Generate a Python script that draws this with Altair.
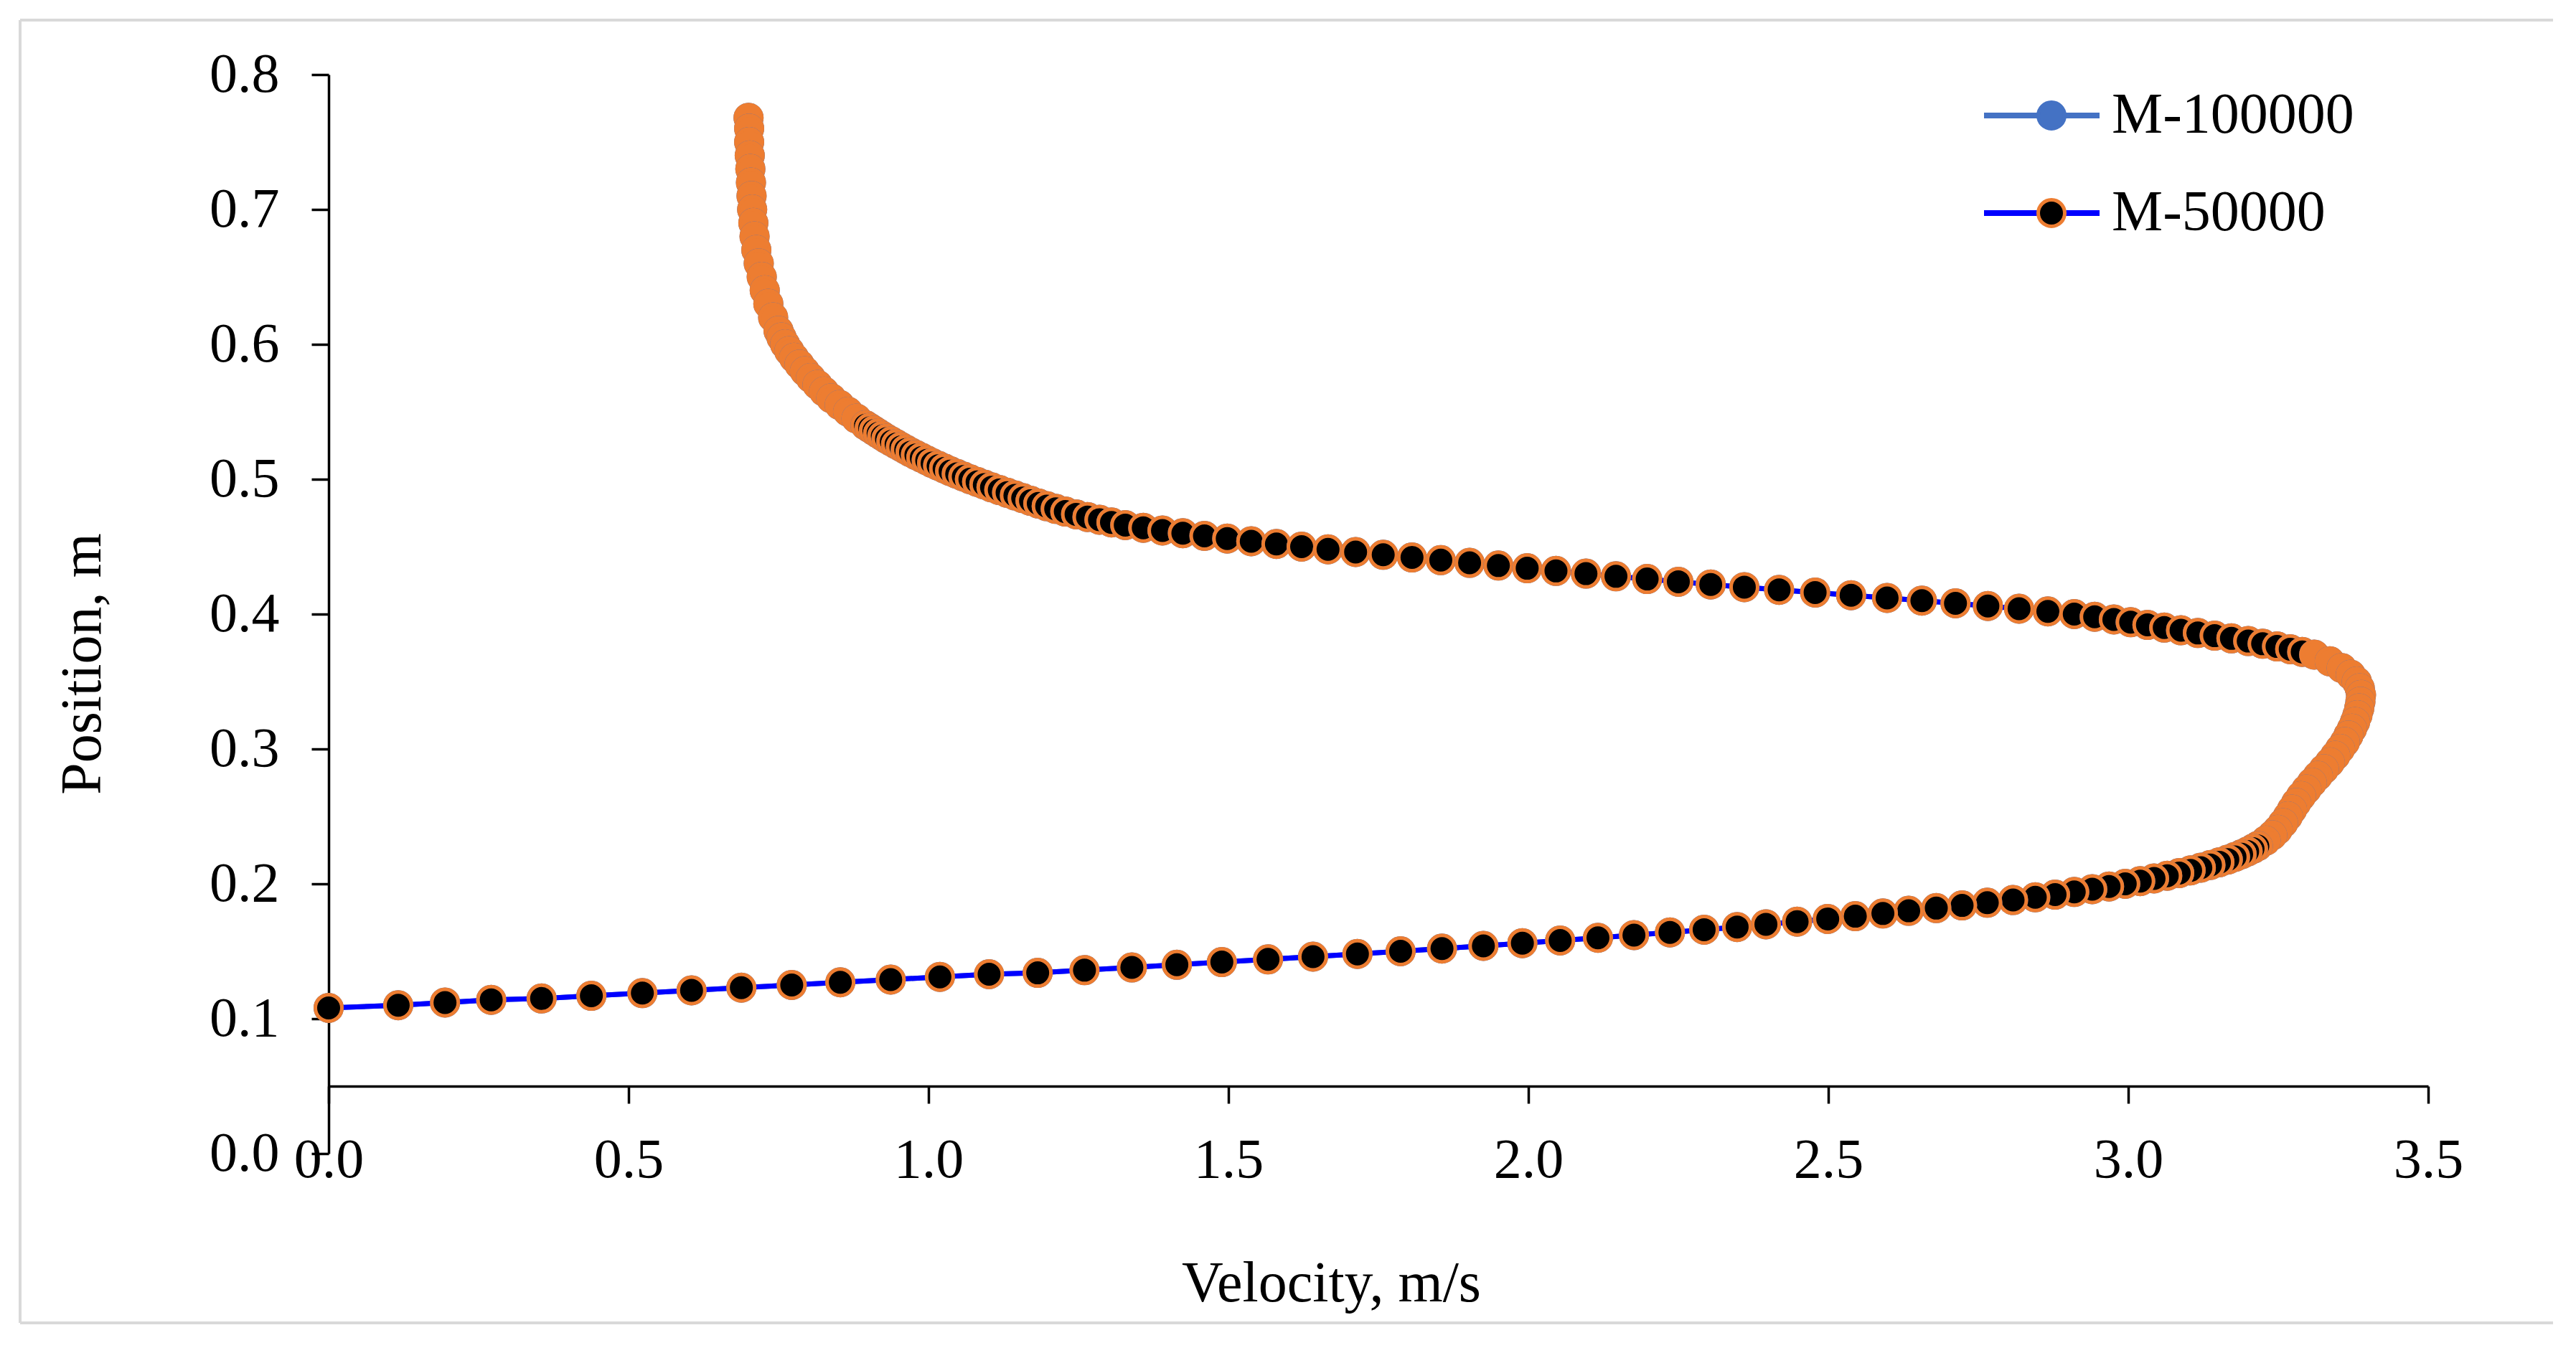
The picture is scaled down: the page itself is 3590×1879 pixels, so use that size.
import altair as alt
import pandas as pd

FONT = "Liberation Serif"
series_names = ["M-100000", "M-50000"]

# lower branch, individually visible markers (position m, velocity m/s)
bottom_pos = [0.108, 0.110, 0.112, 0.114, 0.115, 0.117, 0.119, 0.121, 0.123, 0.125,
              0.127, 0.129, 0.131, 0.133, 0.134, 0.136, 0.138, 0.140, 0.142, 0.144,
              0.146, 0.148, 0.150, 0.152, 0.154, 0.156, 0.158, 0.160, 0.162, 0.164,
              0.166, 0.168, 0.170, 0.172, 0.174, 0.176, 0.178, 0.180, 0.182, 0.184,
              0.186, 0.188, 0.190, 0.192, 0.194, 0.196, 0.198, 0.200, 0.202, 0.204,
              0.206, 0.208, 0.210, 0.212, 0.214, 0.216, 0.218, 0.220, 0.222, 0.224,
              0.226, 0.228]
bottom_vel = [0.000, 0.116, 0.194, 0.271, 0.355, 0.438, 0.523, 0.605, 0.688, 0.772,
              0.853, 0.937, 1.019, 1.101, 1.182, 1.260, 1.339, 1.414, 1.489, 1.566,
              1.641, 1.715, 1.787, 1.856, 1.925, 1.990, 2.053, 2.116, 2.176, 2.236,
              2.293, 2.348, 2.396, 2.448, 2.499, 2.545, 2.591, 2.634, 2.680, 2.723,
              2.765, 2.808, 2.845, 2.878, 2.910, 2.940, 2.968, 2.995, 3.020, 3.043,
              3.065, 3.085, 3.104, 3.121, 3.137, 3.152, 3.166, 3.178, 3.189, 3.199,
              3.208, 3.216]

# nose, markers so dense they merge into an orange band
nose_pos = [0.232, 0.236, 0.240, 0.245, 0.250, 0.255, 0.260, 0.265, 0.270, 0.275,
            0.280, 0.285, 0.290, 0.295, 0.300, 0.305, 0.310, 0.315, 0.320, 0.325,
            0.330, 0.335, 0.340, 0.345, 0.350, 0.355, 0.360, 0.365, 0.370]
nose_vel = [3.229, 3.240, 3.249, 3.258, 3.266, 3.273, 3.280, 3.288, 3.297, 3.306,
            3.316, 3.326, 3.336, 3.345, 3.353, 3.361, 3.367, 3.373, 3.378, 3.382,
            3.385, 3.387, 3.388, 3.386, 3.381, 3.371, 3.356, 3.336, 3.310]

# upper branch markers
upper_pos = [0.372, 0.374, 0.376, 0.378, 0.380, 0.382, 0.384, 0.386, 0.388, 0.390,
             0.392, 0.394, 0.396, 0.398, 0.400, 0.402, 0.404, 0.406, 0.408, 0.410,
             0.412, 0.414, 0.416, 0.418, 0.420, 0.422, 0.424, 0.426, 0.428, 0.430,
             0.432, 0.434, 0.436, 0.438, 0.440, 0.442, 0.444, 0.446, 0.448, 0.450,
             0.452, 0.454, 0.456, 0.458, 0.460, 0.462, 0.464, 0.466, 0.468, 0.470,
             0.472, 0.474, 0.476, 0.478, 0.480, 0.482, 0.484, 0.486, 0.488, 0.490,
             0.492, 0.494, 0.496, 0.498, 0.500, 0.502, 0.504, 0.506, 0.508, 0.510,
             0.512, 0.514, 0.516, 0.518, 0.520, 0.522, 0.524, 0.526, 0.528, 0.530,
             0.532, 0.534, 0.536, 0.538, 0.540]
upper_vel = [3.290, 3.270, 3.248, 3.224, 3.200, 3.172, 3.144, 3.116, 3.088, 3.060,
             3.032, 3.004, 2.976, 2.944, 2.910, 2.866, 2.818, 2.766, 2.712, 2.656,
             2.598, 2.538, 2.478, 2.418, 2.360, 2.304, 2.250, 2.198, 2.146, 2.096,
             2.046, 1.998, 1.950, 1.902, 1.854, 1.806, 1.758, 1.712, 1.666, 1.622,
             1.580, 1.538, 1.498, 1.460, 1.424, 1.390, 1.358, 1.328, 1.305, 1.285,
             1.265, 1.246, 1.228, 1.212, 1.197, 1.183, 1.170, 1.157, 1.144, 1.131,
             1.118, 1.105, 1.093, 1.081, 1.069, 1.058, 1.047, 1.036, 1.026, 1.016,
             1.006, 0.997, 0.988, 0.979, 0.970, 0.962, 0.954, 0.946, 0.938, 0.930,
             0.923, 0.916, 0.909, 0.902, 0.895]

# top, dense orange band
top_pos = [0.545, 0.550, 0.555, 0.560, 0.565, 0.570, 0.575, 0.580, 0.585, 0.590,
           0.595, 0.600, 0.605, 0.610, 0.620, 0.630, 0.640, 0.650, 0.660, 0.670,
           0.680, 0.690, 0.700, 0.710, 0.720, 0.730, 0.740, 0.750, 0.760, 0.768]
top_vel = [0.880, 0.866, 0.852, 0.838, 0.826, 0.815, 0.804, 0.794, 0.785, 0.776,
           0.768, 0.761, 0.755, 0.750, 0.741, 0.733, 0.727, 0.722, 0.717, 0.713,
           0.710, 0.708, 0.706, 0.705, 0.704, 0.703, 0.702, 0.701, 0.701, 0.700]

x_ticks = [0.0, 0.5, 1.0, 1.5, 2.0, 2.5, 3.0, 3.5]
y_ticks = [0.0, 0.1, 0.2, 0.3, 0.4, 0.5, 0.6, 0.7, 0.8]

rows = []
for s in series_names:
    for part, ps, vs in [("marker", bottom_pos, bottom_vel), ("band", nose_pos, nose_vel),
                         ("marker", upper_pos, upper_vel), ("band", top_pos, top_vel)]:
        for p, v in zip(ps, vs):
            rows.append({"series": s, "series2": s, "pos": p, "vel": v, "part": part})
df = pd.DataFrame(rows)

W, H = 2926, 1504
AXIS_OFF = -round(H * 0.05 / 0.8)

x_enc = alt.X("vel:Q", scale=alt.Scale(domain=[0, 3.5], nice=False, zero=False),
              axis=alt.Axis(values=x_ticks, format=".1f", title="Velocity, m/s",
                            offset=AXIS_OFF, labelFlush=False, tickSize=24, labelPadding=40,
                            titleX=1397, titleY=275, titleAlign="center",
                            titleBaseline="middle"))
y_enc = alt.Y("pos:Q", scale=alt.Scale(domain=[0, 0.8], nice=False),
              axis=alt.Axis(values=y_ticks, format=".1f", title="Position, m",
                            labelFlush=False, tickSize=24, labelPadding=45,
                            titleX=-343, titleY=821, titleAngle=270, titleAlign="center",
                            titleBaseline="middle"))

base = alt.Chart(df).encode(x=x_enc, y=y_enc)

line_legend = alt.Legend(title=None, orient="none", legendX=2303, legendY=-11,
                         symbolType="stroke", symbolSize=25921, symbolStrokeWidth=8,
                         clipHeight=136, rowPadding=0, labelOffset=13, labelFont=FONT,
                         labelFontSize=80, labelColor="black", labelLimit=0, padding=0)
pt_legend = alt.Legend(title=None, orient="none", legendX=2361, legendY=-11,
                       symbolType="circle", symbolSize=1369, symbolStrokeWidth=5,
                       clipHeight=136, rowPadding=0, labelExpr="''", labelFont=FONT,
                       labelFontSize=80, padding=0)

lines = base.mark_line(strokeWidth=7).encode(
    color=alt.Color("series:N", scale=alt.Scale(domain=series_names, range=["#4472C4", "#0000FF"]),
                    legend=line_legend),
    order=alt.Order("pos:Q"),
)

band_test = "datum.part == 'band' && datum.series == 'M-50000'"
points = base.mark_circle(size=1369, strokeWidth=5, opacity=1).encode(
    fill=alt.condition(band_test, alt.value("#ED7D31"),
                       alt.Fill("series2:N", scale=alt.Scale(range=["#4472C4", "#000000"]),
                                legend=pt_legend)),
    stroke=alt.Stroke("series2:N", scale=alt.Scale(range=["#4472C4", "#ED7D31"]),
                      legend=pt_legend),
    order=alt.Order("pos:Q", sort="descending"),
)

one = pd.DataFrame({"k": [0]})
frame_top = alt.Chart(one).mark_rule(color="#D9D9D9", strokeWidth=4).encode(
    x=alt.value(-430), x2=alt.value(3100), y=alt.value(-76), y2=alt.value(-76))
frame_left = alt.Chart(one).mark_rule(color="#D9D9D9", strokeWidth=4).encode(
    x=alt.value(-430), x2=alt.value(-430), y=alt.value(-76), y2=alt.value(1740))
frame_bottom = alt.Chart(one).mark_rule(color="#D9D9D9", strokeWidth=4).encode(
    x=alt.value(-430), x2=alt.value(3100), y=alt.value(1740), y2=alt.value(1740))

chart = alt.layer(frame_top, frame_left, frame_bottom, lines, points).properties(
    width=W, height=H,
    padding={"left": 450, "top": 96, "right": 190, "bottom": 255},
    autosize=alt.AutoSizeParams(type="none"),
    background="white",
).configure_view(stroke=None).configure_axis(
    labelFont=FONT, labelFontSize=78, labelColor="black",
    titleFont=FONT, titleFontSize=80, titleFontWeight="normal", titleColor="black",
    domainColor="black", domainWidth=3.5, tickColor="black", tickWidth=3.5, grid=False,
)

chart.save("out.html", embed_options={"renderer": "svg", "actions": False})
